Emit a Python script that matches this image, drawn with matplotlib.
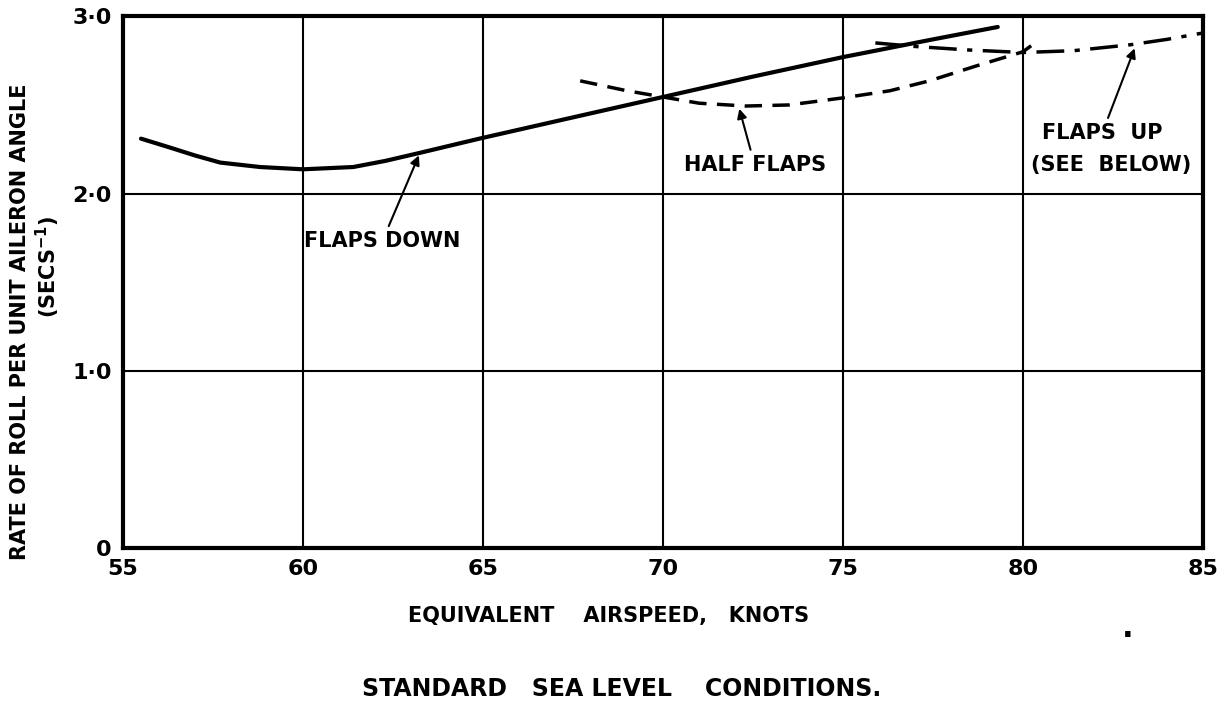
import matplotlib
matplotlib.use('Agg')
import matplotlib.pyplot as plt

plt.rcParams['font.family'] = ['DejaVu Sans']
plt.rcParams['font.weight'] = 'bold'

# Flaps down (solid)
down_x = [55.5, 56.3, 57.0, 57.7, 58.8, 60.0, 61.4, 62.3, 63.25, 64.9, 67.5, 70.0, 72.5, 75.0, 77.5, 79.3]
down_y = [2.31, 2.26, 2.215, 2.175, 2.15, 2.137, 2.15, 2.185, 2.23, 2.31, 2.43, 2.545, 2.66, 2.77, 2.87, 2.94]

# Half flaps (dashed)
half_x = [67.7, 69.0, 70.0, 71.0, 72.3, 73.5, 75.0, 76.3, 77.4, 78.7, 80.0, 80.4]
half_y = [2.636, 2.58, 2.545, 2.51, 2.494, 2.50, 2.54, 2.58, 2.636, 2.72, 2.80, 2.86]

# Flaps up (dash-dot)
up_x = [75.9, 77.0, 78.5, 80.0, 81.4, 83.0, 84.0, 85.0]
up_y = [2.85, 2.83, 2.81, 2.796, 2.806, 2.84, 2.87, 2.906]

xticks = [55, 60, 65, 70, 75, 80, 85]
yticks = [0, 1, 2, 3]
ytick_labels = ['0', '1·0', '2·0', '3·0']

fig = plt.figure(figsize=(12.3, 7.1), dpi=100)
ax = fig.add_axes([0.1, 0.228, 0.878, 0.749])

ax.plot(down_x, down_y, color='black', lw=3, solid_capstyle='round')
ax.plot(half_x, half_y, color='black', lw=2.5, linestyle=(0, (5, 3)))
ax.plot(up_x, up_y, color='black', lw=2.5, linestyle=(0, (8, 3, 1.5, 3)))

ax.set_xlim(55, 85)
ax.set_ylim(0, 3)
ax.set_xticks(xticks)
ax.set_xticklabels([str(t) for t in xticks])
ax.set_yticks(yticks)
ax.set_yticklabels(ytick_labels)
ax.tick_params(length=0, labelsize=16, pad=8)
ax.grid(True, color='black', lw=1.5)
for s in ax.spines.values():
    s.set_linewidth(3)

arrow = dict(arrowstyle='-|>', color='black', lw=1.5, mutation_scale=14)
ax.annotate('FLAPS DOWN', xy=(63.25, 2.23), xytext=(62.2, 1.73),
            ha='center', va='center', fontsize=15, arrowprops=arrow)
ax.annotate('HALF FLAPS', xy=(72.1, 2.494), xytext=(72.55, 2.16),
            ha='center', va='center', fontsize=15, arrowprops=arrow)
ax.annotate('FLAPS  UP', xy=(83.13, 2.834), xytext=(82.2, 2.34),
            ha='center', va='center', fontsize=15, arrowprops=arrow)
ax.text(82.45, 2.16, '(SEE  BELOW)', ha='center', va='center', fontsize=15)

fig.text(0.016, 0.547, 'RATE OF ROLL PER UNIT AILERON ANGLE', rotation=90,
         ha='center', va='center', fontsize=15)
fig.text(0.039, 0.624, '(SECS$^{-1}$)', rotation=90,
         ha='center', va='center', fontsize=15)
fig.text(0.495, 0.133, 'EQUIVALENT    AIRSPEED,   KNOTS',
         ha='center', va='center', fontsize=15)
fig.text(0.917, 0.115, '.', ha='center', va='center', fontsize=22)
fig.text(0.505, 0.03, 'STANDARD   SEA LEVEL    CONDITIONS.',
         ha='center', va='center', fontsize=17)

fig.savefig('out.png', dpi=100)
